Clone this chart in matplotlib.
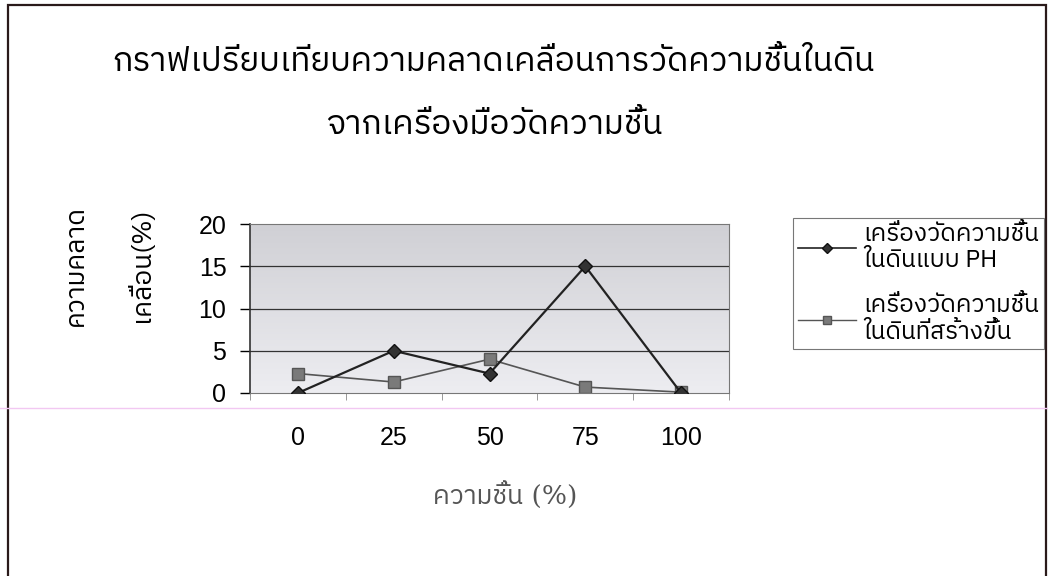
import numpy as np
import matplotlib
matplotlib.use("Agg")
import matplotlib.pyplot as plt
from matplotlib.font_manager import fontManager
from matplotlib.patches import Rectangle
from matplotlib.lines import Line2D

# humidity levels (%) and measurement error (%) for each meter
humidity = ["0", "25", "50", "75", "100"]
error_ph = [0, 5, 2.3, 15, 0]
error_built = [2.3, 1.3, 4.0, 0.7, 0.1]
yticks = [0, 5, 10, 15, 20]

title_lines = ["กราฟเปรียบเทียบความคลาดเคลื่อนการวัดความชื้นในดิน",
               "จากเครื่องมือวัดความชื้น"]
ylabel_lines = ["ความคลาด", "เคลื่อน(%)"]
xlabel = "ความชื้น (%)"
legend_labels = ["เครื่องวัดความชื้น\nในดินแบบ PH",
                 "เครื่องวัดความชื้น\nในดินที่สร้างขึ้น"]

thai_fonts = sorted({f.name for f in fontManager.ttflist if "Thai" in f.name})
sans = thai_fonts + ["DejaVu Sans"]
serif = ["DejaVu Serif"] + thai_fonts
plt.rcParams["font.family"] = sans

fig = plt.figure(figsize=(10.48, 5.76), dpi=100)
ax = fig.add_axes([250 / 1048, 1 - 393 / 576, 479 / 1048, 169 / 576])

x = np.arange(len(humidity))

# gradient plot-area background
grad = np.linspace(0, 1, 100).reshape(-1, 1)
ax.imshow(grad, extent=[-0.5, 4.5, 0, 20], aspect="auto", origin="upper",
          cmap=matplotlib.colors.LinearSegmentedColormap.from_list(
              "bg", ["#d0d0d5", "#ededf1"]), zorder=0)

for yv in yticks[1:-1]:
    ax.axhline(yv, color="#333333", lw=0.9, zorder=1)

ax.plot(x, error_ph, color="#222222", lw=1.6, marker="D", ms=7,
        mfc="#333333", mec="#111111", zorder=3, label=legend_labels[0])
ax.plot(x, error_built, color="#555555", lw=1.2, marker="s", ms=8,
        mfc="#7a7a7a", mec="#555555", zorder=2, label=legend_labels[1])

ax.set_xlim(-0.5, 4.5)
ax.set_ylim(0, 20)
ax.set_yticks(yticks)
ax.set_xticks(x)
ax.set_xticklabels(humidity, family="Liberation Sans")
ax.set_yticklabels([str(v) for v in yticks], family="Liberation Sans")
ax.set_xticks(np.arange(-0.5, 5, 1), minor=True)
ax.tick_params(axis="x", which="major", length=0, pad=24, labelsize=18)
ax.tick_params(axis="x", which="minor", length=5, color="#888888", direction="out")
ax.tick_params(axis="y", length=7, width=1, pad=10, labelsize=18)
for s in ["top", "right", "bottom"]:
    ax.spines[s].set_color("#777777")
ax.spines["left"].set_color("#333333")
ax.spines["left"].set_linewidth(1.2)

handles = [Line2D([], [], color="#222222", lw=1.2, marker="D", ms=5, mfc="#333333", mec="#111111"),
           Line2D([], [], color="#555555", lw=1.0, marker="s", ms=6, mfc="#7a7a7a", mec="#555555")]
leg = fig.legend(handles, legend_labels, loc="upper left",
                 bbox_to_anchor=(793 / 1048, 1 - 218 / 576),
                 fontsize=17.5, frameon=True, fancybox=False, edgecolor="#555555",
                 handlelength=2.4, labelspacing=0.9, borderpad=0.2, handletextpad=0.3,
                 borderaxespad=0)
leg.get_frame().set_linewidth(0.8)

fig.text(494 / 1048, 1 - 62 / 576, title_lines[0], ha="center", va="center", fontsize=24)
fig.text(494 / 1048, 1 - 125 / 576, title_lines[1], ha="center", va="center", fontsize=24)
fig.text(75 / 1048, 1 - 265 / 576, ylabel_lines[0], rotation=90, ha="center", va="center", fontsize=19)
fig.text(140 / 1048, 1 - 265 / 576, ylabel_lines[1], rotation=90, ha="center", va="center", fontsize=19)
fig.text(505 / 1048, 1 - 495 / 576, xlabel, ha="center", va="center", fontsize=19,
         color="#555555", family=serif)

# scanner artefact line and outer frame of the chart
fig.add_artist(Line2D([0, 1], [1 - 408 / 576] * 2, transform=fig.transFigure,
                      color="#f2c8f2", lw=1.0))
fig.patches.append(Rectangle((8 / 1048, -0.05), 1038 / 1048, 1 - 5 / 576 + 0.05,
                             transform=fig.transFigure, fill=False,
                             edgecolor="#2a1a1a", lw=1.6))

fig.savefig("out.png", dpi=100)
